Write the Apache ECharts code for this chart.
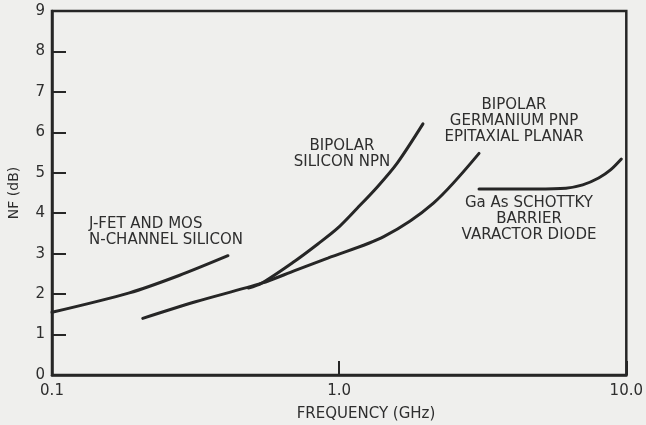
<!DOCTYPE html>
<html>
<head>
<meta charset="utf-8">
<script src="https://cdn.jsdelivr.net/npm/echarts@6/dist/echarts.min.js"></script>
<style>
  html, body { margin: 0; padding: 0; background: #efefed; }
  #chart { width: 646px; height: 425px; }
</style>
</head>
<body>
<div id="chart"></div>
<script>
// Noise figure (dB) versus frequency (GHz) for several device families
const freqTickLabels = { 0.1: '0.1', 1: '1.0', 10: '10.0' };
const nfTicks = [0, 1, 2, 3, 4, 5, 6, 7, 8, 9];

const jfetFreq = [0.1, 0.186, 0.277, 0.41];
const jfetNF   = [1.55, 2.03, 2.46, 2.95];

const siNpnFreq = [0.483, 0.537, 0.702, 0.843, 0.988, 1.158, 1.358, 1.593, 1.958];
const siNpnNF   = [2.15, 2.27, 2.82, 3.24, 3.63, 4.13, 4.65, 5.24, 6.21];

const gePnpFreq = [0.207, 0.316, 0.537, 0.70, 0.913, 1.43, 2.13, 3.07];
const gePnpNF   = [1.40, 1.81, 2.27, 2.58, 2.89, 3.42, 4.25, 5.48];

const gaasFreq = [3.07, 4.85, 6.16, 7.05, 8.01, 8.81, 9.61];
const gaasNF   = [4.60, 4.60, 4.62, 4.70, 4.87, 5.07, 5.34];

const ink = '#262626';
const font = 'DejaVu Sans';

function pairs(xs, ys) { return xs.map((x, i) => [x, ys[i]]); }

function curve(name, xs, ys) {
  return {
    name, type: 'line', data: pairs(xs, ys), smooth: 0.3,
    symbol: 'none', silent: true,
    lineStyle: { color: ink, width: 3, cap: 'round' }
  };
}

function note(x, y, text, align) {
  return {
    type: 'text', x, y, silent: true,
    style: {
      text, fill: '#2e2e2e', font: '15px "' + font + '"',
      align: align || 'center', verticalAlign: 'middle', lineHeight: 16
    }
  };
}

const chart = echarts.init(document.getElementById('chart'), null, { renderer: 'canvas' });
chart.setOption({
  backgroundColor: '#efefed',
  animation: false,
  grid: {
    left: 52, right: 15, top: 11, bottom: 50,
    show: true, borderColor: ink, borderWidth: 2.5, backgroundColor: 'transparent'
  },
  xAxis: {
    type: 'log', logBase: 10, min: 0.1, max: 10,
    axisLine: { show: true, lineStyle: { color: ink, width: 2.5 } },
    axisTick: { show: true, inside: true, length: 14, lineStyle: { color: ink, width: 2 } },
    minorTick: { show: false },
    splitLine: { show: false },
    axisLabel: {
      margin: 9, color: '#2e2e2e', fontFamily: font, fontSize: 15,
      formatter: v => freqTickLabels[Math.round(v * 10) / 10] || ''
    }
  },
  yAxis: {
    type: 'value', min: nfTicks[0], max: nfTicks[nfTicks.length - 1], interval: 1,
    axisLine: { show: true, lineStyle: { color: ink, width: 2.5 } },
    axisTick: { show: true, inside: true, length: 14, lineStyle: { color: ink, width: 2 } },
    splitLine: { show: false },
    axisLabel: { margin: 7, color: '#2e2e2e', fontFamily: font, fontSize: 15 }
  },
  series: [
    curve('J-FET and MOS N-channel silicon', jfetFreq, jfetNF),
    curve('Bipolar silicon NPN', siNpnFreq, siNpnNF),
    curve('Bipolar germanium PNP epitaxial planar', gePnpFreq, gePnpNF),
    curve('GaAs Schottky barrier varactor diode', gaasFreq, gaasNF)
  ],
  graphic: [
    note(89, 232, 'J-FET AND MOS\nN-CHANNEL SILICON', 'left'),
    note(342, 154, 'BIPOLAR\nSILICON NPN'),
    note(514, 121, 'BIPOLAR\nGERMANIUM PNP\nEPITAXIAL PLANAR'),
    note(529, 219, 'Ga As SCHOTTKY\nBARRIER\nVARACTOR DIODE'),
    note(366, 414, 'FREQUENCY (GHz)'),
    {
      type: 'text', x: 14, y: 193, rotation: Math.PI / 2, silent: true,
      style: { text: 'NF (dB)', fill: '#2e2e2e', font: '14px "' + font + '"', align: 'center', verticalAlign: 'middle' }
    }
  ]
});
</script>
</body>
</html>
